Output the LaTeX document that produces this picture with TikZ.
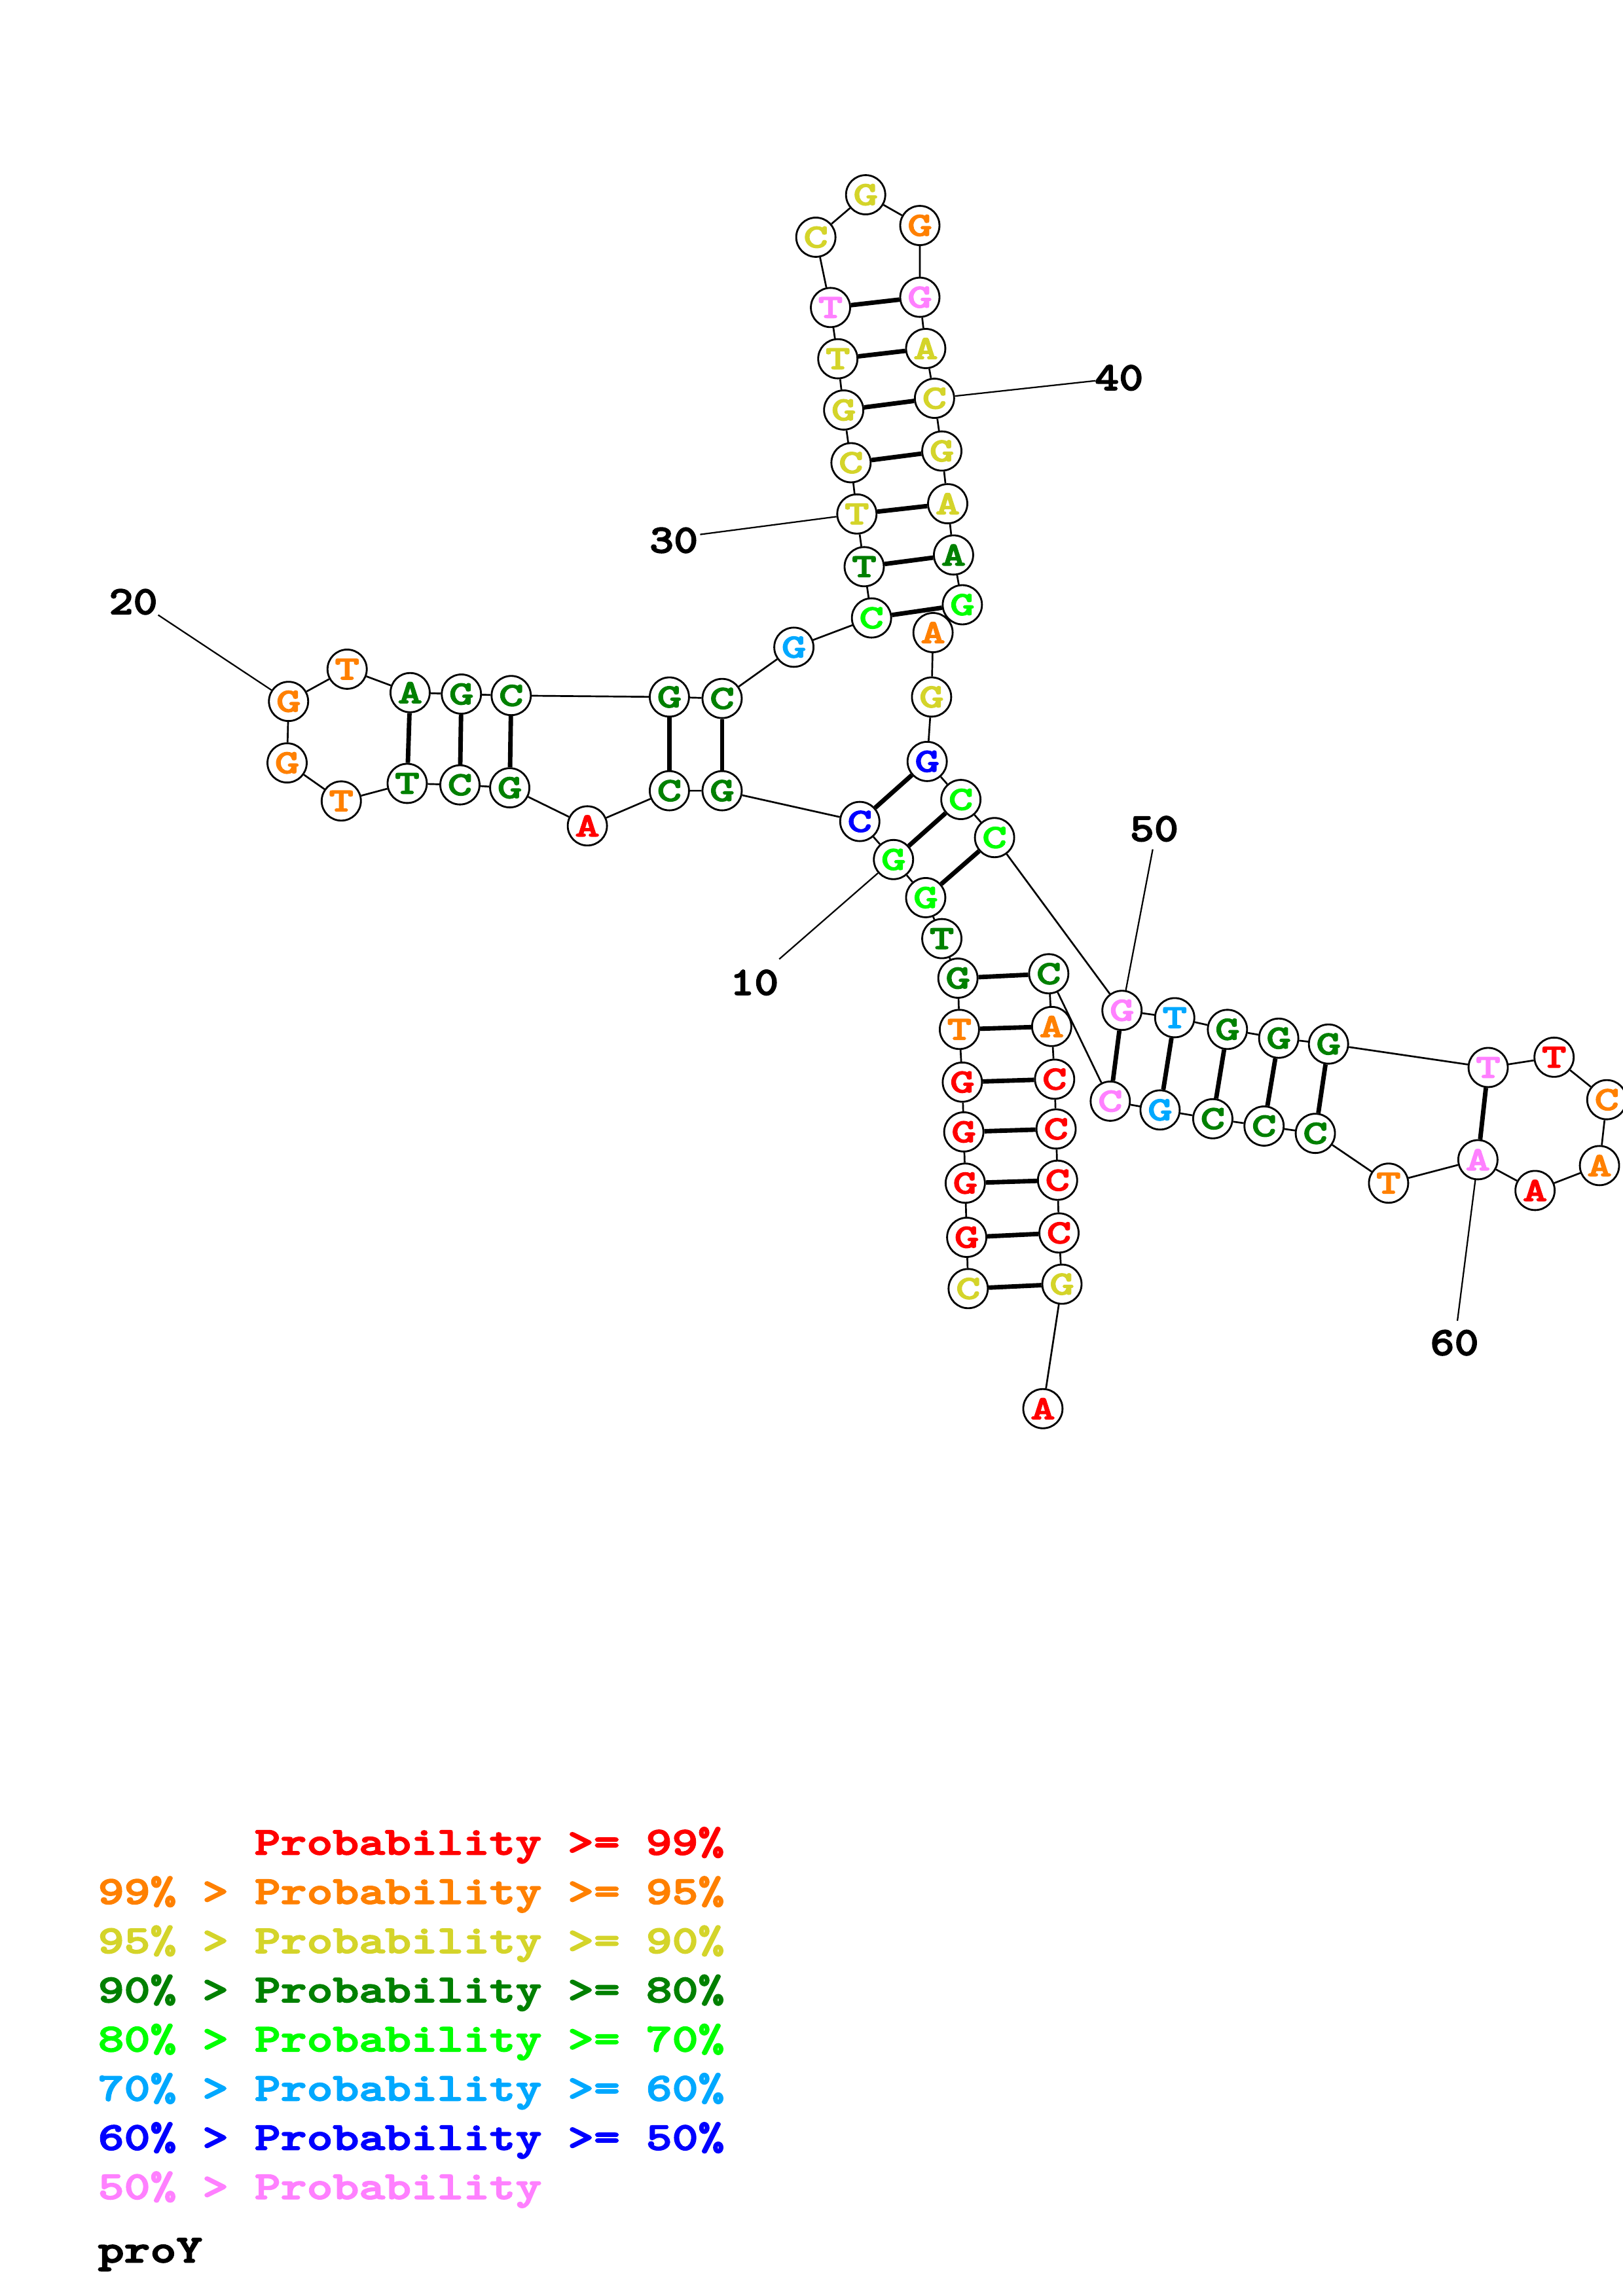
\documentclass[tikz,border=0pt]{standalone}
\usepackage{fontspec}
\usetikzlibrary{backgrounds}
\newfontfamily\nucfont{lmmonolt10-bold.otf}[FakeStretch=1.4,FakeBold=2.5]
\newfontfamily\numfont{lmmonolt10-bold.otf}[FakeStretch=1.15,FakeBold=2.5]
\newfontfamily\legfont{lmmonolt10-bold.otf}[FakeStretch=1.26,FakeBold=3]

\definecolor{c99}{RGB}{255,0,0}
\definecolor{c95}{RGB}{255,128,0}
\definecolor{c90}{RGB}{212,212,42}
\definecolor{c80}{RGB}{0,128,0}
\definecolor{c70}{RGB}{0,255,0}
\definecolor{c60}{RGB}{0,168,255}
\definecolor{c50}{RGB}{0,0,255}
\definecolor{c00}{RGB}{255,128,255}

\tikzset{every picture/.style={line width=0.75pt},
  nt/.style={circle, draw, fill=white, inner sep=0pt, minimum size=20.1pt, line width=0.95pt, font=\nucfont\fontsize{17.3}{17.3}\selectfont},
  bb/.style={line width=0.9pt},
  bp/.style={line width=2.3pt},
  tick/.style={line width=0.75pt},
  num/.style={font=\numfont\fontsize{20.6}{20.6}\selectfont},
  leg/.style={anchor=base west, font=\legfont\fontsize{20.2}{20.2}\selectfont}}

\begin{document}
\begin{tikzpicture}[x=0.75pt,y=0.75pt,yscale=-1,xscale=1]
%set diagram left start at 0, and has size of the page
\useasboundingbox (0,0) rectangle (1108,1568);

% Text Node
\draw (661,880) node[nt,text=c90] (n1) {C};
% Text Node
\draw (660,845) node[nt,text=c99] (n2) {G};
% Text Node
\draw (659,808) node[nt,text=c99] (n3) {G};
% Text Node
\draw (658,773) node[nt,text=c99] (n4) {G};
% Text Node
\draw (657,739) node[nt,text=c99] (n5) {G};
% Text Node
\draw (655,703) node[nt,text=c95] (n6) {T};
% Text Node
\draw (654,668) node[nt,text=c80] (n7) {G};
% Text Node
\draw (643,641) node[nt,text=c80] (n8) {T};
% Text Node
\draw (632,613) node[nt,text=c70] (n9) {G};
% Text Node
\draw (610,587) node[nt,text=c70] (n10) {G};
% Text Node
\draw (587,561) node[nt,text=c50] (n11) {C};
% Text Node
\draw (493,540) node[nt,text=c80] (n12) {G};
% Text Node
\draw (457,540) node[nt,text=c80] (n13) {C};
% Text Node
\draw (401,564) node[nt,text=c99] (n14) {A};
% Text Node
\draw (348,538) node[nt,text=c80] (n15) {G};
% Text Node
\draw (314,536) node[nt,text=c80] (n16) {C};
% Text Node
\draw (278,535) node[nt,text=c80] (n17) {T};
% Text Node
\draw (233,547) node[nt,text=c95] (n18) {T};
% Text Node
\draw (196,521) node[nt,text=c95] (n19) {G};
% Text Node
\draw (197,479) node[nt,text=c95] (n20) {G};
% Text Node
\draw (237,457) node[nt,text=c95] (n21) {T};
% Text Node
\draw (280,473) node[nt,text=c80] (n22) {A};
% Text Node
\draw (315,474) node[nt,text=c80] (n23) {G};
% Text Node
\draw (349,475) node[nt,text=c80] (n24) {C};
% Text Node
\draw (457,476) node[nt,text=c80] (n25) {G};
% Text Node
\draw (493,477) node[nt,text=c80] (n26) {C};
% Text Node
\draw (542,442) node[nt,text=c60] (n27) {G};
% Text Node
\draw (595,422) node[nt,text=c70] (n28) {C};
% Text Node
\draw (590,387) node[nt,text=c80] (n29) {T};
% Text Node
\draw (585,351) node[nt,text=c90] (n30) {T};
% Text Node
\draw (581,316) node[nt,text=c90] (n31) {C};
% Text Node
\draw (576,280) node[nt,text=c90] (n32) {G};
% Text Node
\draw (572,245) node[nt,text=c90] (n33) {T};
% Text Node
\draw (567,210) node[nt,text=c00] (n34) {T};
% Text Node
\draw (557,162) node[nt,text=c90] (n35) {C};
% Text Node
\draw (591,133) node[nt,text=c90] (n36) {G};
% Text Node
\draw (628,154) node[nt,text=c95] (n37) {G};
% Text Node
\draw (628,203) node[nt,text=c00] (n38) {G};
% Text Node
\draw (632,238) node[nt,text=c90] (n39) {A};
% Text Node
\draw (638,272) node[nt,text=c90] (n40) {C};
% Text Node
\draw (643,308) node[nt,text=c90] (n41) {G};
% Text Node
\draw (647,344) node[nt,text=c90] (n42) {A};
% Text Node
\draw (651,379) node[nt,text=c80] (n43) {A};
% Text Node
\draw (657,413) node[nt,text=c70] (n44) {G};
% Text Node
\draw (637,432) node[nt,text=c95] (n45) {A};
% Text Node
\draw (636,476) node[nt,text=c90] (n46) {G};
% Text Node
\draw (633,520) node[nt,text=c50] (n47) {G};
% Text Node
\draw (656,546) node[nt,text=c70] (n48) {C};
% Text Node
\draw (679,572) node[nt,text=c70] (n49) {C};
% Text Node
\draw (766,690) node[nt,text=c00] (n50) {G};
% Text Node
\draw (802,695) node[nt,text=c60] (n51) {T};
% Text Node
\draw (838,703) node[nt,text=c80] (n52) {G};
% Text Node
\draw (873,709) node[nt,text=c80] (n53) {G};
% Text Node
\draw (907,713) node[nt,text=c80] (n54) {G};
% Text Node
\draw (1016,729) node[nt,text=c00] (n55) {T};
% Text Node
\draw (1061,722) node[nt,text=c99] (n56) {T};
% Text Node
\draw (1097,751) node[nt,text=c95] (n57) {C};
% Text Node
\draw (1092,796) node[nt,text=c95] (n58) {A};
% Text Node
\draw (1048,813) node[nt,text=c99] (n59) {A};
% Text Node
\draw (1009,792) node[nt,text=c00] (n60) {A};
% Text Node
\draw (948,808) node[nt,text=c95] (n61) {T};
% Text Node
\draw (898,774) node[nt,text=c80] (n62) {C};
% Text Node
\draw (863,769) node[nt,text=c80] (n63) {C};
% Text Node
\draw (828,764) node[nt,text=c80] (n64) {C};
% Text Node
\draw (792,758) node[nt,text=c60] (n65) {G};
% Text Node
\draw (758,752) node[nt,text=c00] (n66) {C};
% Text Node
\draw (716,665) node[nt,text=c80] (n67) {C};
% Text Node
\draw (718,701) node[nt,text=c95] (n68) {A};
% Text Node
\draw (720,737) node[nt,text=c99] (n69) {C};
% Text Node
\draw (721,771) node[nt,text=c99] (n70) {C};
% Text Node
\draw (722,806) node[nt,text=c99] (n71) {C};
% Text Node
\draw (723,842) node[nt,text=c99] (n72) {C};
% Text Node
\draw (725,877) node[nt,text=c90] (n73) {G};
% Text Node
\draw (712,962) node[nt,text=c99] (n74) {A};

% Text Node
\draw (515,671) node[num] (l10) {10};
% Text Node
\draw (91,411) node[num] (l20) {20};
% Text Node
\draw (460,369) node[num] (l30) {30};
% Text Node
\draw (764,258) node[num] (l40) {40};
% Text Node
\draw (788,566) node[num] (l50) {50};
% Text Node
\draw (993,917) node[num] (l60) {60};
\coordinate (t10) at (532,655);
\coordinate (t20) at (108,420);
\coordinate (t30) at (478,365);
\coordinate (t40) at (748,260);
\coordinate (t50) at (787,580);
\coordinate (t60) at (995,902);

\begin{scope}[on background layer]
%Straight Lines
\draw[bb] (n1) -- (n2) -- (n3) -- (n4) -- (n5) -- (n6) -- (n7) -- (n8) -- (n9) -- (n10)
  -- (n11) -- (n12) -- (n13) -- (n14) -- (n15) -- (n16) -- (n17) -- (n18) -- (n19) -- (n20)
  -- (n21) -- (n22) -- (n23) -- (n24) -- (n25) -- (n26) -- (n27) -- (n28) -- (n29) -- (n30)
  -- (n31) -- (n32) -- (n33) -- (n34) -- (n35) -- (n36) -- (n37) -- (n38) -- (n39) -- (n40)
  -- (n41) -- (n42) -- (n43) -- (n44) -- (n45) -- (n46) -- (n47) -- (n48) -- (n49) -- (n50)
  -- (n51) -- (n52) -- (n53) -- (n54) -- (n55) -- (n56) -- (n57) -- (n58) -- (n59) -- (n60)
  -- (n61) -- (n62) -- (n63) -- (n64) -- (n65) -- (n66) -- (n67) -- (n68) -- (n69) -- (n70)
  -- (n71) -- (n72) -- (n73) -- (n74);
%Straight Lines
\draw[bp] (n1) -- (n73);
\draw[bp] (n2) -- (n72);
\draw[bp] (n3) -- (n71);
\draw[bp] (n4) -- (n70);
\draw[bp] (n5) -- (n69);
\draw[bp] (n6) -- (n68);
\draw[bp] (n7) -- (n67);
%Straight Lines
\draw[bp] (n9) -- (n49);
\draw[bp] (n10) -- (n48);
\draw[bp] (n11) -- (n47);
%Straight Lines
\draw[bp] (n12) -- (n26);
\draw[bp] (n13) -- (n25);
\draw[bp] (n15) -- (n24);
\draw[bp] (n16) -- (n23);
\draw[bp] (n17) -- (n22);
%Straight Lines
\draw[bp] (n28) -- (n44);
\draw[bp] (n29) -- (n43);
\draw[bp] (n30) -- (n42);
\draw[bp] (n31) -- (n41);
\draw[bp] (n32) -- (n40);
\draw[bp] (n33) -- (n39);
\draw[bp] (n34) -- (n38);
%Straight Lines
\draw[bp] (n50) -- (n66);
\draw[bp] (n51) -- (n65);
\draw[bp] (n52) -- (n64);
\draw[bp] (n53) -- (n63);
\draw[bp] (n54) -- (n62);
\draw[bp] (n55) -- (n60);
%Straight Lines
\draw[tick] (t10) -- (n10);
\draw[tick] (t20) -- (n20);
\draw[tick] (t30) -- (n30);
\draw[tick] (t40) -- (n40);
\draw[tick] (t50) -- (n50);
\draw[tick] (t60) -- (n60);
\end{scope}

% Text Node
\draw (168.8,1266.5) node[leg,text=c99] (r1) {Probability >= 99\%};
% Text Node
\draw (62,1300.1) node[leg,text=c95] (r2) {99\% > Probability >= 95\%};
% Text Node
\draw (62,1333.7) node[leg,text=c90] (r3) {95\% > Probability >= 90\%};
% Text Node
\draw (62,1367.3) node[leg,text=c80] (r4) {90\% > Probability >= 80\%};
% Text Node
\draw (62,1400.9) node[leg,text=c70] (r5) {80\% > Probability >= 70\%};
% Text Node
\draw (62,1434.5) node[leg,text=c60] (r6) {70\% > Probability >= 60\%};
% Text Node
\draw (62,1468.1) node[leg,text=c50] (r7) {60\% > Probability >= 50\%};
% Text Node
\draw (62,1501.7) node[leg,text=c00] (r8) {50\% > Probability};
% Text Node
\draw (62,1545) node[leg] (r9) {proY};

\end{tikzpicture}
\end{document}
